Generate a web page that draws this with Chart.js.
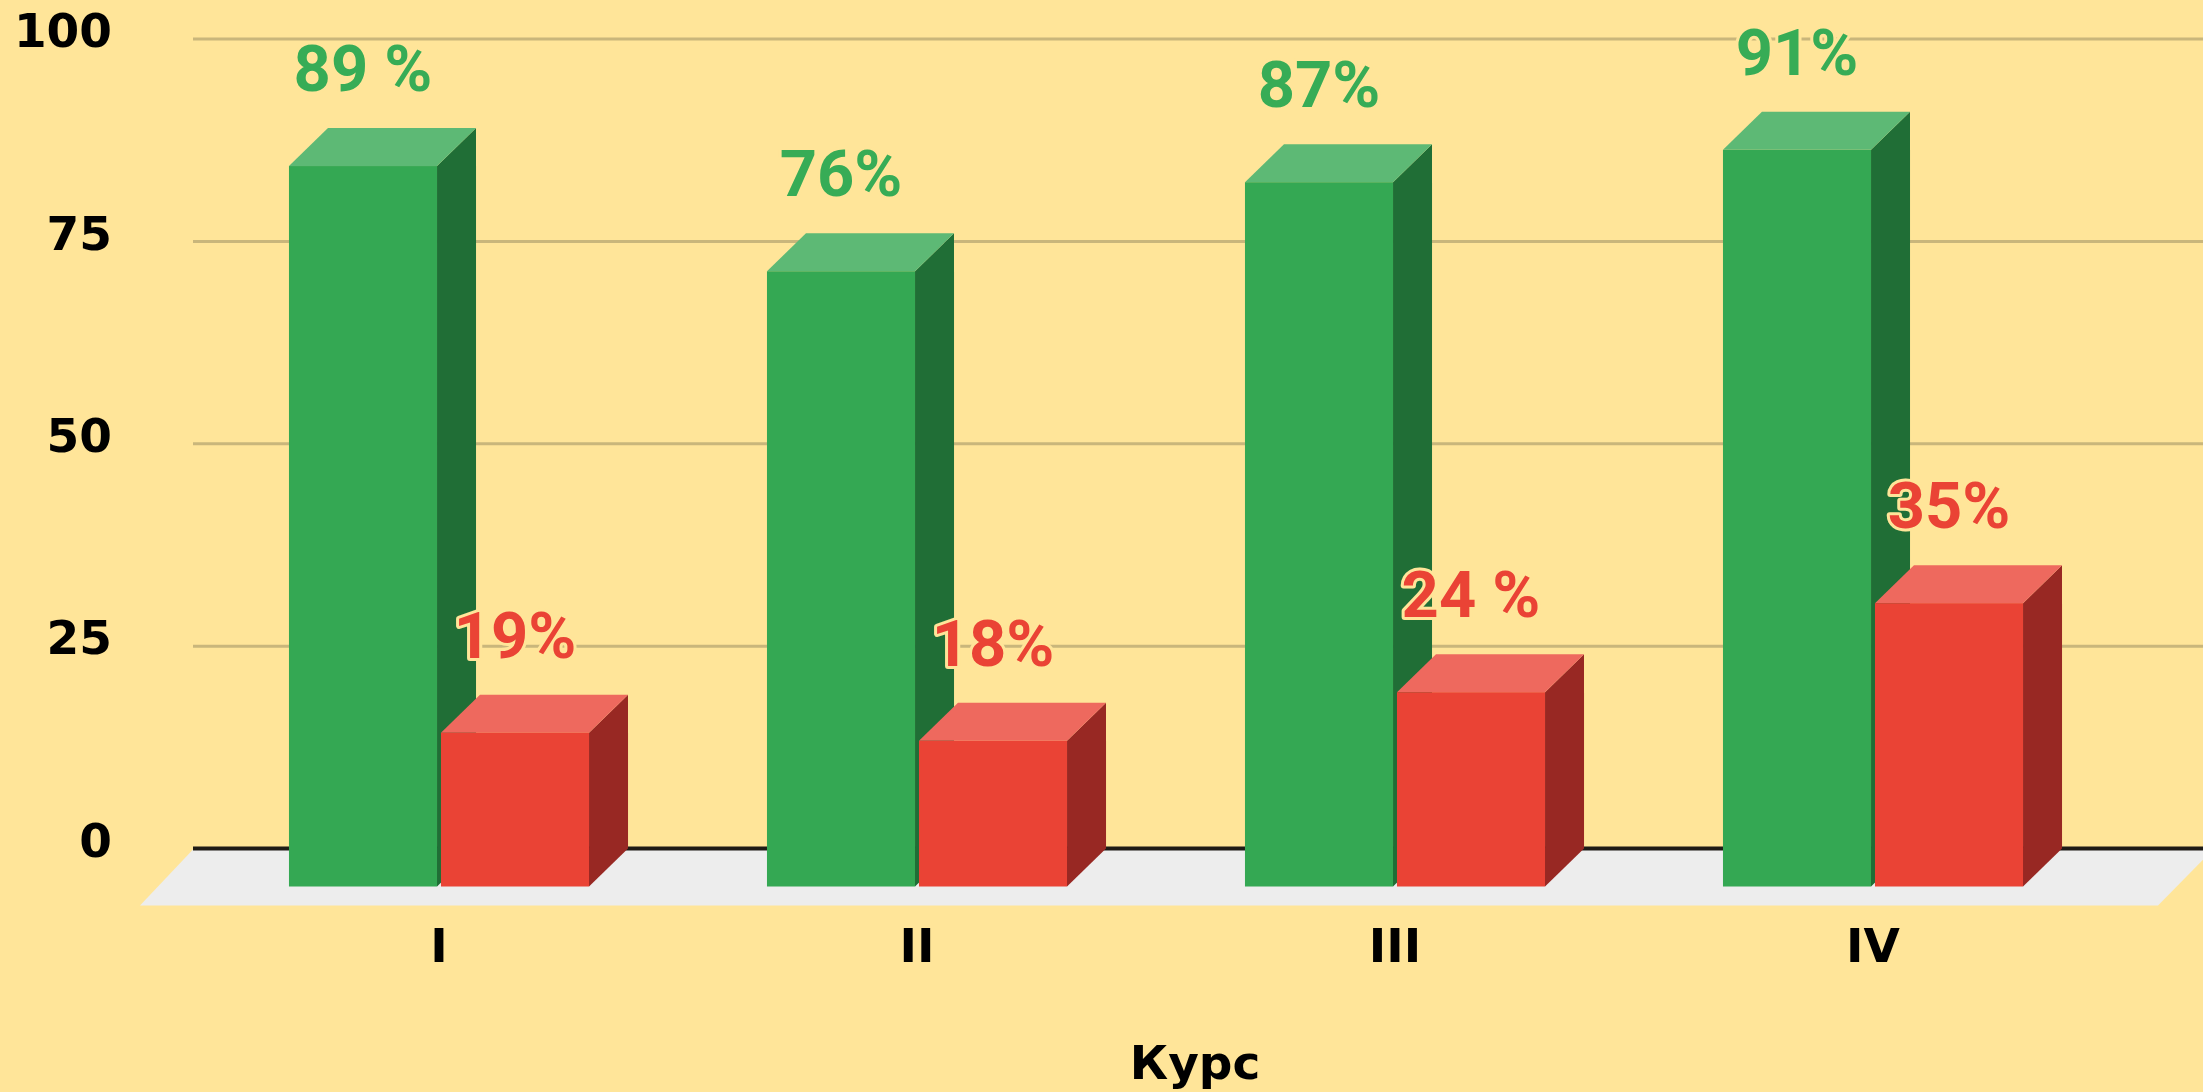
<!DOCTYPE html>
<html>
<head>
<meta charset="utf-8">
<script src="https://cdn.jsdelivr.net/npm/chart.js@4.4.1/dist/chart.umd.min.js"></script>
<style>
  html, body { margin:0; padding:0; background:#FFE599; }
  #wrap { width:2203px; height:1092px; position:relative; }
</style>
</head>
<body>
<div id="wrap"><canvas id="chart"></canvas></div>
<script>
"use strict";

const courses     = ['I', 'II', 'III', 'IV'];
const greenValues = [89, 76, 87, 91];
const redValues   = [19, 18, 24, 35];
const greenLabels = ['89 %', '76%', '87%', '91%'];
const redLabels   = ['19%', '18%', '24 %', '35%'];
const yTicks      = [0, 25, 50, 75, 100];

const BG = '#FFE599';
const DX = 39, DY = 38;   // глубина столбика
const FD = 55;            // глубина "пола"

const faces = [
  { front:'#34A853', top:'#5DB975', side:'#206E36', text:'#37AC56' },
  { front:'#EA4335', top:'#EE695E', side:'#982823', text:'#EA4335' },
];

const bars3d = {
  id:'bars3d',
  beforeDatasetsDraw(chart) {
    const { ctx, chartArea:ca, scales } = chart;
    const y0 = scales.y.getPixelForValue(0);
    const fl = ca.left - 46, fr = ca.right + 62;
    ctx.save();
    // пол
    ctx.fillStyle = '#EDEDED';
    ctx.beginPath();
    ctx.moveTo(fl, y0 + 1); ctx.lineTo(fr, y0 + 1);
    ctx.lineTo(fr - FD, y0 + 57); ctx.lineTo(fl - FD + 2, y0 + 57);
    ctx.closePath(); ctx.fill();
    // сетка
    ctx.strokeStyle = '#C9B67B'; ctx.lineWidth = 3;
    yTicks.filter(v => v > 0).forEach(v => {
      const y = scales.y.getPixelForValue(v);
      ctx.beginPath(); ctx.moveTo(fl, y); ctx.lineTo(chart.width, y); ctx.stroke();
    });
    // ось
    ctx.strokeStyle = '#1E1B16'; ctx.lineWidth = 4;
    ctx.beginPath(); ctx.moveTo(fl, y0); ctx.lineTo(chart.width, y0); ctx.stroke();
    ctx.restore();
  },
  afterDatasetsDraw(chart) {
    const { ctx } = chart;
    const metas = [chart.getDatasetMeta(0), chart.getDatasetMeta(1)];
    ctx.save();
    courses.forEach((_, i) => {
      metas.forEach((meta, d) => {
        const b = meta.data[i].getProps(['x', 'y', 'base', 'width'], true);
        const c = faces[d];
        const x0 = b.x - b.width / 2 - DX, x1 = b.x + b.width / 2 - DX;
        const yt = b.y + DY, yb = b.base + DY;
        // бок
        ctx.fillStyle = c.side;
        ctx.beginPath();
        ctx.moveTo(x1, yt); ctx.lineTo(x1 + DX, yt - DY);
        ctx.lineTo(x1 + DX, yb - DY); ctx.lineTo(x1, yb);
        ctx.closePath(); ctx.fill();
        // верх
        ctx.fillStyle = c.top;
        ctx.beginPath();
        ctx.moveTo(x0, yt); ctx.lineTo(x1, yt);
        ctx.lineTo(x1 + DX, yt - DY); ctx.lineTo(x0 + DX, yt - DY);
        ctx.closePath(); ctx.fill();
        // перед
        ctx.fillStyle = c.front;
        ctx.fillRect(x0, yt, x1 - x0, yb - yt);
      });
    });
    // подписи значений
    ctx.font = '700 65px Roboto, sans-serif';
    ctx.textAlign = 'center';
    ctx.textBaseline = 'alphabetic';
    ctx.lineJoin = 'round';
    [greenLabels, redLabels].forEach((labels, d) => {
      labels.forEach((txt, i) => {
        const b = metas[d].data[i].getProps(['x', 'y'], true);
        const x = b.x - DX, y = b.y - 37;
        ctx.strokeStyle = BG; ctx.lineWidth = 6;
        ctx.strokeText(txt, x, y);
        ctx.fillStyle = faces[d].text;
        ctx.fillText(txt, x, y);
      });
    });
    ctx.restore();
  }
};

const tickFont = { family:'DejaVu Sans', size:47, weight:'bold', lineHeight:1 };

new Chart(document.getElementById('chart'), {
  type:'bar',
  data:{
    labels:courses,
    datasets:[
      { data:greenValues, backgroundColor:'transparent', barPercentage:0.974, categoryPercentage:0.636 },
      { data:redValues,   backgroundColor:'transparent', barPercentage:0.974, categoryPercentage:0.636 },
    ]
  },
  options:{
    responsive:true,
    maintainAspectRatio:false,
    animation:false,
    layout:{ padding:{ top:39, right:52, bottom:0, left:0 } },
    plugins:{ legend:{ display:false }, tooltip:{ enabled:false } },
    scales:{
      x:{
        grid:{ display:false, drawTicks:false },
        border:{ display:false },
        ticks:{ color:'#000', font:tickFont, padding:78, labelOffset:-DX },
        title:{ display:true, text:'Курс', color:'#000', font:tickFont, padding:{ top:0, bottom:2 } },
        afterFit(s) { s.height = 243.5; s.paddingLeft = 0; s.paddingRight = 0; }
      },
      y:{
        min:0, max:100,
        afterBuildTicks(s) { s.ticks = yTicks.map(v => ({ value:v })); },
        grid:{ display:false, drawTicks:false },
        border:{ display:false },
        ticks:{ color:'#000', font:tickFont, padding:127, labelOffset:-4 },
        afterFit(s) { s.width = 239; s.paddingTop = 0; s.paddingBottom = 0; }
      }
    }
  },
  plugins:[bars3d]
});
</script>
</body>
</html>
